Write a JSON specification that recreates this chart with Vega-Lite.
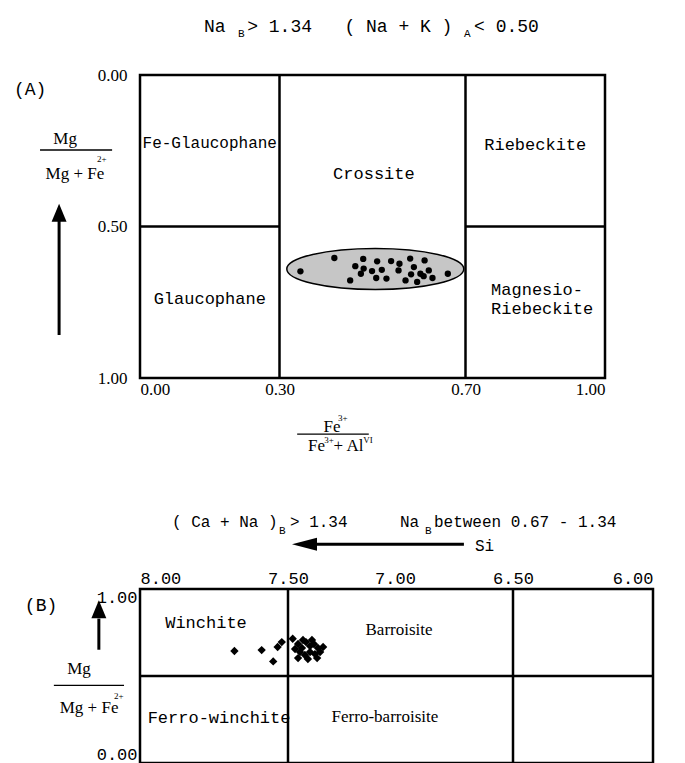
{
  "$schema": "https://vega.github.io/schema/vega-lite/v6.json",
  "background": "white",
  "padding": {"left": 12, "top": 16, "right": 5, "bottom": 0},
  "bounds": "flush",
  "spacing": 211,
  "config": {
    "view": {"stroke": "black", "strokeWidth": 2.5},
    "axis": {"grid": false, "domain": false, "ticks": false, "labelColor": "black", "title": null}
  },
  "datasets": {
    "topLines": [
      {"x": 0.3, "x2": 0.3, "y": 0, "y2": 1},
      {"x": 0.7, "x2": 0.7, "y": 0, "y2": 1},
      {"x": 0, "x2": 0.3, "y": 0.5, "y2": 0.5},
      {"x": 0.7, "x2": 1, "y": 0.5, "y2": 0.5}
    ],
    "topEllipse": [{"x": 0.506, "y": 0.64}],
    "topDots": [
      {"x": 0.345, "y": 0.648}, {"x": 0.418, "y": 0.604}, {"x": 0.452, "y": 0.678},
      {"x": 0.463, "y": 0.631}, {"x": 0.480, "y": 0.607}, {"x": 0.481, "y": 0.639},
      {"x": 0.475, "y": 0.656}, {"x": 0.499, "y": 0.647}, {"x": 0.510, "y": 0.615},
      {"x": 0.508, "y": 0.670}, {"x": 0.520, "y": 0.643}, {"x": 0.530, "y": 0.672},
      {"x": 0.540, "y": 0.614}, {"x": 0.558, "y": 0.623}, {"x": 0.556, "y": 0.645},
      {"x": 0.571, "y": 0.678}, {"x": 0.581, "y": 0.606}, {"x": 0.589, "y": 0.634},
      {"x": 0.583, "y": 0.658}, {"x": 0.596, "y": 0.683}, {"x": 0.603, "y": 0.656},
      {"x": 0.612, "y": 0.612}, {"x": 0.621, "y": 0.645}, {"x": 0.610, "y": 0.664},
      {"x": 0.629, "y": 0.670}, {"x": 0.662, "y": 0.656}
    ],
    "topMonoCenter": [
      {"x": 0.503, "y": 0.327, "t": "Crossite"},
      {"x": 0.85, "y": 0.231, "t": "Riebeckite"},
      {"x": 0.15, "y": 0.739, "t": "Glaucophane"}
    ],
    "topMonoSmall": [{"x": 0.15, "y": 0.224, "t": "Fe-Glaucophane"}],
    "topMonoLeft": [
      {"x": 0.755, "y": 0.71, "t": "Magnesio-"},
      {"x": 0.755, "y": 0.772, "t": "Riebeckite"}
    ],
    "topTitle": [{"x": 0.1376, "y": -0.142, "t": "Na\u00a0\u00a0>\u00a01.34\u00a0\u00a0\u00a0(\u00a0Na\u00a0+\u00a0K\u00a0)\u00a0\u00a0<\u00a00.50"}],
    "topPanel": [{"x": -0.271, "y": 0.066, "t": "(A)"}],
    "topSub": [
      {"x": 0.211, "y": -0.125, "t": "B"},
      {"x": 0.697, "y": -0.125, "t": "A"}
    ],
    "topSerif": [
      {"x": -0.161, "y": 0.228, "t": "Mg"},
      {"x": -0.14, "y": 0.343, "t": "Mg + Fe"},
      {"x": 0.413, "y": 1.178, "t": "Fe"},
      {"x": 0.421, "y": 1.241, "t": "Fe\u00a0\u00a0+ Al"}
    ],
    "topSup": [
      {"x": -0.0925, "y": 0.287, "t": "2+"},
      {"x": 0.426, "y": 1.142, "t": "3+"},
      {"x": 0.396, "y": 1.215, "t": "3+"},
      {"x": 0.48, "y": 1.215, "t": "VI"}
    ],
    "topFrac": [
      {"x": -0.215, "x2": -0.06, "y": 0.2475, "y2": 0.2475},
      {"x": 0.338, "x2": 0.492, "y": 1.185, "y2": 1.185}
    ],
    "topShaft": [{"x": -0.174, "x2": -0.174, "y": 0.479, "y2": 0.858}],
    "topHead": [{"x": -0.174, "y": 0.455}],
    "botLines": [
      {"x": 7.5, "x2": 7.5, "y": 0, "y2": 1},
      {"x": 6.5, "x2": 6.5, "y": 0, "y2": 1},
      {"x": 8, "x2": 6, "y": 0.5, "y2": 0.5}
    ],
    "botDiamonds": [
      {"x": 7.681, "y": 0.644}, {"x": 7.589, "y": 0.649}, {"x": 7.550, "y": 0.584},
      {"x": 7.535, "y": 0.667}, {"x": 7.521, "y": 0.695}, {"x": 7.478, "y": 0.714},
      {"x": 7.453, "y": 0.684}, {"x": 7.435, "y": 0.661}, {"x": 7.416, "y": 0.695},
      {"x": 7.397, "y": 0.672}, {"x": 7.379, "y": 0.684}, {"x": 7.360, "y": 0.661},
      {"x": 7.444, "y": 0.638}, {"x": 7.421, "y": 0.621}, {"x": 7.397, "y": 0.638},
      {"x": 7.374, "y": 0.626}, {"x": 7.350, "y": 0.638}, {"x": 7.336, "y": 0.667},
      {"x": 7.453, "y": 0.603}, {"x": 7.407, "y": 0.598}, {"x": 7.364, "y": 0.603},
      {"x": 7.430, "y": 0.707}, {"x": 7.388, "y": 0.707}, {"x": 7.467, "y": 0.655}
    ],
    "botMonoCenter": [
      {"x": 7.777, "y": 0.806, "t": "Winchite"},
      {"x": 7.733, "y": 0.257, "t": "Ferro-winchite"}
    ],
    "botSerifCenter": [
      {"x": 6.983, "y": 0.766, "t": "Barroisite"},
      {"x": 7.047, "y": 0.263, "t": "Ferro-barroisite"}
    ],
    "botMonoLeft": [
      {"x": 7.892, "y": 1.354, "t": "( Ca + Na )"},
      {"x": 7.491, "y": 1.354, "t": "> 1.34"},
      {"x": 6.979, "y": 1.354, "t": "Na"},
      {"x": 6.835, "y": 1.354, "t": "between 0.67 - 1.34"},
      {"x": 6.661, "y": 1.217, "t": "Si"}
    ],
    "botSub": [
      {"x": 7.530, "y": 1.314, "t": "B"},
      {"x": 6.873, "y": 1.314, "t": "B"}
    ],
    "botPanel": [{"x": 8.389, "y": 0.874, "t": "(B)"}],
    "botSerif": [
      {"x": 8.206, "y": 0.514, "t": "Mg"},
      {"x": 8.172, "y": 0.286, "t": "Mg + Fe"}
    ],
    "botSup": [{"x": 8.088, "y": 0.366, "t": "2+"}],
    "botFrac": [{"x": 8.291, "x2": 8.054, "y": 0.446, "y2": 0.446}],
    "botShaft": [
      {"x": 8.139, "x2": 8.139, "y": 0.83, "y2": 0.651},
      {"x": 7.379, "x2": 6.708, "y": 1.257, "y2": 1.257}
    ],
    "botHeadUp": [{"x": 8.139, "y": 0.883}],
    "botHeadLeft": [{"x": 7.423, "y": 1.257}]
  },
  "vconcat": [
    {
      "width": 465,
      "height": 303,
      "layer": [
        {
          "data": {"name": "topLines"},
          "mark": {"type": "rule", "color": "black", "strokeWidth": 2.5},
          "encoding": {
            "x": {"field": "x", "type": "quantitative", "scale": {"domain": [0, 1], "nice": false, "zero": false},
                  "axis": {"orient": "bottom", "values": [0, 0.3, 0.7, 1], "format": ".2f", "title": null, "labelFont": "Liberation Serif", "labelFontSize": 17, "labelPadding": 3, "labelFlush": true}},
            "x2": {"field": "x2"},
            "y": {"field": "y", "type": "quantitative", "scale": {"domain": [0, 1], "reverse": true, "nice": false, "zero": false},
                  "axis": {"orient": "left", "values": [0, 0.5, 1], "format": ".2f", "title": null, "labelFont": "Liberation Serif", "labelFontSize": 17, "labelPadding": 13, "labelFlush": false}},
            "y2": {"field": "y2"}
          }
        },
        {
          "data": {"name": "topEllipse"},
          "mark": {"type": "point", "shape": "M-1,0A1,0.232 0 1,1 1,0A1,0.232 0 1,1 -1,0Z", "size": 31329, "filled": true, "fill": "#c6c6c6", "stroke": "black", "strokeWidth": 1.5, "opacity": 1},
          "encoding": {
            "x": {"field": "x", "type": "quantitative"},
            "y": {"field": "y", "type": "quantitative"}
          }
        },
        {
          "data": {"name": "topDots"},
          "mark": {"type": "circle", "size": 40, "color": "black", "opacity": 1},
          "encoding": {
            "x": {"field": "x", "type": "quantitative"},
            "y": {"field": "y", "type": "quantitative"}
          }
        },
        {
          "data": {"name": "topMonoCenter"},
          "mark": {"type": "text", "font": "Liberation Mono", "fontSize": 17, "align": "center", "baseline": "middle", "color": "black"},
          "encoding": {
            "x": {"field": "x", "type": "quantitative"},
            "y": {"field": "y", "type": "quantitative"},
            "text": {"field": "t"}
          }
        },
        {
          "data": {"name": "topMonoSmall"},
          "mark": {"type": "text", "font": "Liberation Mono", "fontSize": 16, "align": "center", "baseline": "middle", "color": "black"},
          "encoding": {
            "x": {"field": "x", "type": "quantitative"},
            "y": {"field": "y", "type": "quantitative"},
            "text": {"field": "t"}
          }
        },
        {
          "data": {"name": "topMonoLeft"},
          "mark": {"type": "text", "font": "Liberation Mono", "fontSize": 17, "align": "left", "baseline": "middle", "color": "black"},
          "encoding": {
            "x": {"field": "x", "type": "quantitative"},
            "y": {"field": "y", "type": "quantitative"},
            "text": {"field": "t"}
          }
        },
        {
          "data": {"name": "topTitle"},
          "mark": {"type": "text", "font": "Liberation Mono", "fontSize": 18, "align": "left", "baseline": "alphabetic", "color": "black"},
          "encoding": {
            "x": {"field": "x", "type": "quantitative"},
            "y": {"field": "y", "type": "quantitative"},
            "text": {"field": "t"}
          }
        },
        {
          "data": {"name": "topPanel"},
          "mark": {"type": "text", "font": "Liberation Mono", "fontSize": 18, "align": "left", "baseline": "alphabetic", "color": "black"},
          "encoding": {
            "x": {"field": "x", "type": "quantitative"},
            "y": {"field": "y", "type": "quantitative"},
            "text": {"field": "t"}
          }
        },
        {
          "data": {"name": "topSub"},
          "mark": {"type": "text", "font": "Liberation Mono", "fontSize": 11, "align": "left", "baseline": "alphabetic", "color": "black"},
          "encoding": {
            "x": {"field": "x", "type": "quantitative"},
            "y": {"field": "y", "type": "quantitative"},
            "text": {"field": "t"}
          }
        },
        {
          "data": {"name": "topSerif"},
          "mark": {"type": "text", "font": "Liberation Serif", "fontSize": 17, "align": "center", "baseline": "alphabetic", "color": "black"},
          "encoding": {
            "x": {"field": "x", "type": "quantitative"},
            "y": {"field": "y", "type": "quantitative"},
            "text": {"field": "t"}
          }
        },
        {
          "data": {"name": "topSup"},
          "mark": {"type": "text", "font": "Liberation Serif", "fontSize": 9, "align": "left", "baseline": "alphabetic", "color": "black"},
          "encoding": {
            "x": {"field": "x", "type": "quantitative"},
            "y": {"field": "y", "type": "quantitative"},
            "text": {"field": "t"}
          }
        },
        {
          "data": {"name": "topFrac"},
          "mark": {"type": "rule", "color": "black", "strokeWidth": 1.3},
          "encoding": {
            "x": {"field": "x", "type": "quantitative"},
            "x2": {"field": "x2"},
            "y": {"field": "y", "type": "quantitative"},
            "y2": {"field": "y2"}
          }
        },
        {
          "data": {"name": "topShaft"},
          "mark": {"type": "rule", "color": "black", "strokeWidth": 3},
          "encoding": {
            "x": {"field": "x", "type": "quantitative"},
            "x2": {"field": "x2"},
            "y": {"field": "y", "type": "quantitative"},
            "y2": {"field": "y2"}
          }
        },
        {
          "data": {"name": "topHead"},
          "mark": {"type": "point", "shape": "M0,-1L0.83,1L-0.83,1Z", "size": 324, "filled": true, "color": "black", "opacity": 1},
          "encoding": {
            "x": {"field": "x", "type": "quantitative"},
            "y": {"field": "y", "type": "quantitative"}
          }
        }
      ]
    },
    {
      "width": 513,
      "height": 174,
      "layer": [
        {
          "data": {"name": "botLines"},
          "mark": {"type": "rule", "color": "black", "strokeWidth": 2.5},
          "encoding": {
            "x": {"field": "x", "type": "quantitative", "scale": {"domain": [8, 7.5, 7, 6.5, 6], "range": [0, 148, 255, 373, 513], "nice": false, "zero": false},
                  "axis": {"orient": "top", "values": [8, 7.5, 7, 6.5, 6], "format": ".2f", "title": null, "labelFont": "Liberation Mono", "labelFontSize": 17, "labelPadding": 2, "labelFlush": true}},
            "x2": {"field": "x2"},
            "y": {"field": "y", "type": "quantitative", "scale": {"domain": [0, 1], "nice": false, "zero": false},
                  "axis": {"orient": "left", "values": [0, 1], "format": ".2f", "title": null, "labelFont": "Liberation Mono", "labelFontSize": 17, "labelPadding": 3, "labelFlush": true}},
            "y2": {"field": "y2"}
          }
        },
        {
          "data": {"name": "botDiamonds"},
          "mark": {"type": "point", "shape": "diamond", "size": 70, "filled": true, "color": "black", "opacity": 1},
          "encoding": {
            "x": {"field": "x", "type": "quantitative"},
            "y": {"field": "y", "type": "quantitative"}
          }
        },
        {
          "data": {"name": "botMonoCenter"},
          "mark": {"type": "text", "font": "Liberation Mono", "fontSize": 17, "align": "center", "baseline": "middle", "color": "black"},
          "encoding": {
            "x": {"field": "x", "type": "quantitative"},
            "y": {"field": "y", "type": "quantitative"},
            "text": {"field": "t"}
          }
        },
        {
          "data": {"name": "botSerifCenter"},
          "mark": {"type": "text", "font": "Liberation Serif", "fontSize": 17, "align": "center", "baseline": "middle", "color": "black"},
          "encoding": {
            "x": {"field": "x", "type": "quantitative"},
            "y": {"field": "y", "type": "quantitative"},
            "text": {"field": "t"}
          }
        },
        {
          "data": {"name": "botMonoLeft"},
          "mark": {"type": "text", "font": "Liberation Mono", "fontSize": 16, "align": "left", "baseline": "alphabetic", "color": "black"},
          "encoding": {
            "x": {"field": "x", "type": "quantitative"},
            "y": {"field": "y", "type": "quantitative"},
            "text": {"field": "t"}
          }
        },
        {
          "data": {"name": "botSub"},
          "mark": {"type": "text", "font": "Liberation Mono", "fontSize": 11, "align": "left", "baseline": "alphabetic", "color": "black"},
          "encoding": {
            "x": {"field": "x", "type": "quantitative"},
            "y": {"field": "y", "type": "quantitative"},
            "text": {"field": "t"}
          }
        },
        {
          "data": {"name": "botPanel"},
          "mark": {"type": "text", "font": "Liberation Mono", "fontSize": 18, "align": "left", "baseline": "alphabetic", "color": "black"},
          "encoding": {
            "x": {"field": "x", "type": "quantitative"},
            "y": {"field": "y", "type": "quantitative"},
            "text": {"field": "t"}
          }
        },
        {
          "data": {"name": "botSerif"},
          "mark": {"type": "text", "font": "Liberation Serif", "fontSize": 17, "align": "center", "baseline": "alphabetic", "color": "black"},
          "encoding": {
            "x": {"field": "x", "type": "quantitative"},
            "y": {"field": "y", "type": "quantitative"},
            "text": {"field": "t"}
          }
        },
        {
          "data": {"name": "botSup"},
          "mark": {"type": "text", "font": "Liberation Serif", "fontSize": 9, "align": "left", "baseline": "alphabetic", "color": "black"},
          "encoding": {
            "x": {"field": "x", "type": "quantitative"},
            "y": {"field": "y", "type": "quantitative"},
            "text": {"field": "t"}
          }
        },
        {
          "data": {"name": "botFrac"},
          "mark": {"type": "rule", "color": "black", "strokeWidth": 1.3},
          "encoding": {
            "x": {"field": "x", "type": "quantitative"},
            "x2": {"field": "x2"},
            "y": {"field": "y", "type": "quantitative"},
            "y2": {"field": "y2"}
          }
        },
        {
          "data": {"name": "botShaft"},
          "mark": {"type": "rule", "color": "black", "strokeWidth": 3},
          "encoding": {
            "x": {"field": "x", "type": "quantitative"},
            "x2": {"field": "x2"},
            "y": {"field": "y", "type": "quantitative"},
            "y2": {"field": "y2"}
          }
        },
        {
          "data": {"name": "botHeadUp"},
          "mark": {"type": "point", "shape": "M0,-1L0.83,1L-0.83,1Z", "size": 324, "filled": true, "color": "black", "opacity": 1},
          "encoding": {
            "x": {"field": "x", "type": "quantitative"},
            "y": {"field": "y", "type": "quantitative"}
          }
        },
        {
          "data": {"name": "botHeadLeft"},
          "mark": {"type": "point", "shape": "M-1,0L1,-0.52L1,0.52Z", "size": 625, "filled": true, "color": "black", "opacity": 1},
          "encoding": {
            "x": {"field": "x", "type": "quantitative"},
            "y": {"field": "y", "type": "quantitative"}
          }
        }
      ]
    }
  ]
}
